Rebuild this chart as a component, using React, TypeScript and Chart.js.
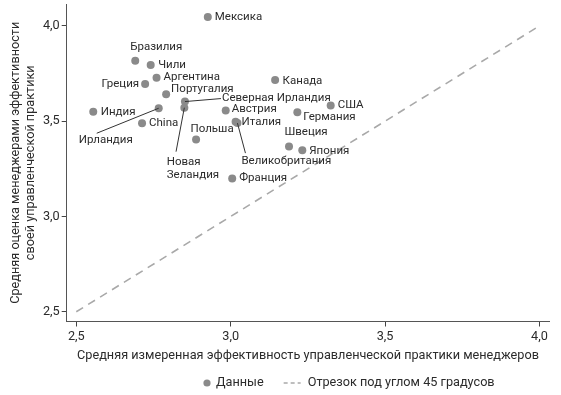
import { useEffect, useRef } from "react";
import { Chart, registerables } from "chart.js";

Chart.register(...registerables);

// ---- data ----
const countries = [
  "Мексика", "Бразилия", "Чили", "Аргентина", "Греция", "Португалия",
  "Северная Ирландия", "Новая Зеландия", "Ирландия", "Индия", "Австрия",
  "Италия", "Великобритания", "China", "Польша", "Канада", "США",
  "Германия", "Швеция", "Япония", "Франция",
];
const measured = [
  2.926, 2.691, 2.741, 2.760, 2.723, 2.791,
  2.852, 2.850, 2.767, 2.555, 2.984,
  3.016, 3.022, 2.713, 2.888, 3.144, 3.324,
  3.216, 3.189, 3.232, 3.005,
];
const selfRated = [
  4.047, 3.817, 3.795, 3.728, 3.695, 3.641,
  3.603, 3.571, 3.568, 3.550, 3.556,
  3.497, 3.490, 3.489, 3.404, 3.716, 3.582,
  3.547, 3.367, 3.348, 3.199,
];
const lineX = [2.5, 4.0];
const lineY = [2.5, 4.0];
const xTicks = [2.5, 3.0, 3.5, 4.0];
const yTicks = [2.5, 3.0, 3.5, 4.0];

const xTitle = "Средняя измеренная эффективность управленческой практики менеджеров";
const yTitle = ["Средняя оценка менеджерами эффективности", "своей управленческой практики"];
const legendDots = "Данные";
const legendLine = "Отрезок под углом 45 градусов";

// ---- label placement (styling: offsets from the point, in px) ----
type Place = { dx: number; dy: number; align: CanvasTextAlign; lines?: string[]; leader?: [number, number] };
const placement: Record<string, Place> = {
  "Мексика": { dx: 7, dy: 0, align: "left" },
  "Бразилия": { dx: 21, dy: -14, align: "center" },
  "Чили": { dx: 7.5, dy: 0, align: "left" },
  "Аргентина": { dx: 7, dy: -1, align: "left" },
  "Греция": { dx: -6, dy: 0, align: "right" },
  "Португалия": { dx: 5, dy: -5, align: "left" },
  "Северная Ирландия": { dx: 37, dy: -3, align: "left", leader: [36, -3] },
  "Новая Зеландия": { dx: -17.6, dy: 54, align: "left", lines: ["Новая", "Зеландия"], leader: [-8.3, 44] },
  "Ирландия": { dx: -80, dy: 32, align: "left", leader: [-62, 25] },
  "Индия": { dx: 7.5, dy: 0, align: "left" },
  "Австрия": { dx: 6, dy: -1, align: "left" },
  "Италия": { dx: 6, dy: 0, align: "left" },
  "Великобритания": { dx: 4, dy: 38, align: "left", leader: [8, 30] },
  "China": { dx: 7, dy: 0, align: "left" },
  "Польша": { dx: 16, dy: -10, align: "center" },
  "Канада": { dx: 7.5, dy: 1, align: "left" },
  "США": { dx: 7, dy: 0, align: "left" },
  "Германия": { dx: 6, dy: 5, align: "left" },
  "Швеция": { dx: 17, dy: -14, align: "center" },
  "Япония": { dx: 7, dy: 1, align: "left" },
  "Франция": { dx: 7, dy: 0, align: "left" },
};

const FONT = "Roboto, 'Liberation Sans', Arial, sans-serif";
const TEXT = "#2b2b2b";
const DOT = "#8a8a8a";
const DASH = "#a9a9a9";
const AXIS_FONT = 12.7;

const labelPlugin = {
  id: "countryLabels",
  afterDatasetsDraw(chart: any) {
    const meta = chart.getDatasetMeta(0);
    const ctx = chart.ctx as CanvasRenderingContext2D;
    ctx.save();
    ctx.font = `11.5px ${FONT}`;
    ctx.fillStyle = TEXT;
    ctx.strokeStyle = "#333";
    ctx.lineWidth = 1;
    ctx.textBaseline = "middle";
    meta.data.forEach((pt: any, i: number) => {
      const name = countries[i];
      const p = placement[name];
      if (!p) return;
      const x = pt.x, y = pt.y;
      if (p.leader) {
        ctx.beginPath();
        ctx.moveTo(x, y);
        ctx.lineTo(x + p.leader[0], y + p.leader[1]);
        ctx.stroke();
      }
      ctx.textAlign = p.align;
      const lines = p.lines || [name];
      lines.forEach((t, k) => ctx.fillText(t, x + p.dx, y + p.dy + k * 13));
    });
    ctx.restore();
  },
};

// legend drawn below the axis title (placement is styling)
const legendPlugin = {
  id: "bottomLegend",
  afterDraw(chart: any) {
    const ctx = chart.ctx as CanvasRenderingContext2D;
    const y = chart.height - 12;
    let x = 203;
    ctx.save();
    ctx.font = `${AXIS_FONT}px ${FONT}`;
    ctx.textBaseline = "middle";
    ctx.textAlign = "left";
    ctx.fillStyle = DOT;
    ctx.beginPath();
    ctx.arc(x + 4, y, 3.6, 0, Math.PI * 2);
    ctx.fill();
    x += 13;
    ctx.fillStyle = TEXT;
    ctx.fillText(legendDots, x, y);
    x += ctx.measureText(legendDots).width + 20;
    ctx.strokeStyle = DASH;
    ctx.lineWidth = 1.6;
    ctx.setLineDash([4, 3]);
    ctx.beginPath();
    ctx.moveTo(x, y);
    ctx.lineTo(x + 17, y);
    ctx.stroke();
    ctx.setLineDash([]);
    x += 24;
    ctx.fillText(legendLine, x, y);
    ctx.restore();
  },
};

export default function App() {
  const ref = useRef<HTMLCanvasElement | null>(null);
  useEffect(() => {
    const prevMargin = document.body.style.margin;
    document.body.style.margin = "0";
    const chart = new Chart(ref.current!, {
      type: "scatter",
      data: {
        datasets: [
          {
            label: legendDots,
            data: measured.map((x, i) => ({ x, y: selfRated[i] })),
            backgroundColor: DOT,
            borderColor: DOT,
            pointRadius: 4,
            pointHoverRadius: 4,
            borderWidth: 0,
            order: 1,
          },
          {
            type: "line",
            label: legendLine,
            data: lineX.map((x, i) => ({ x, y: lineY[i] })),
            borderColor: DASH,
            borderWidth: 1.6,
            borderDash: [8, 6],
            pointRadius: 0,
            fill: false,
            order: 2,
          } as any,
        ],
      },
      options: {
        animation: false,
        responsive: false,
        devicePixelRatio: 1,
        layout: { padding: { top: 2, right: 11.7, left: 0, bottom: 31 } },
        plugins: {
          tooltip: { enabled: false },
          legend: { display: false },
        },
        scales: {
          x: {
            type: "linear",
            min: 2.469,
            max: 4.032,
            afterBuildTicks: (s: any) => { s.ticks = xTicks.map((v) => ({ value: v })); },
            afterFit: (s: any) => { s.height = 42.5; s.paddingLeft = 0; s.paddingRight = 0; },
            grid: { display: true, drawOnChartArea: false, drawTicks: true, tickLength: 5, color: "#444" },
            border: { display: true, color: "#555", width: 1 },
            ticks: {
              color: TEXT,
              padding: 3,
              font: { family: FONT, size: AXIS_FONT },
              callback: (v: any) => Number(v).toFixed(1).replace(".", ","),
            },
            title: {
              display: true,
              text: xTitle,
              color: TEXT,
              font: { family: FONT, size: AXIS_FONT },
              padding: { top: 4, bottom: 1 },
            },
          },
          y: {
            type: "linear",
            min: 2.449,
            max: 4.115,
            afterBuildTicks: (s: any) => { s.ticks = yTicks.map((v) => ({ value: v })); },
            afterFit: (s: any) => { s.width = 66.7; s.paddingTop = 0; s.paddingBottom = 0; },
            grid: { display: true, drawOnChartArea: false, drawTicks: true, tickLength: 5, color: "#444" },
            border: { display: true, color: "#555", width: 1 },
            ticks: {
              color: TEXT,
              padding: 2,
              font: { family: FONT, size: AXIS_FONT },
              callback: (v: any) => Number(v).toFixed(1).replace(".", ","),
            },
            title: {
              display: true,
              text: yTitle,
              color: TEXT,
              font: { family: FONT, size: AXIS_FONT, lineHeight: 1.12 },
              padding: { top: 9, bottom: 4 },
            },
          },
        },
      },
      plugins: [labelPlugin, legendPlugin],
    });
    return () => {
      chart.destroy();
      document.body.style.margin = prevMargin;
    };
  }, []);
  return (
    <div style={{ position: "absolute", left: 0, top: 0, width: 561, height: 395 }}>
      <canvas ref={ref} width={561} height={395} style={{ display: "block" }} />
    </div>
  );
}
